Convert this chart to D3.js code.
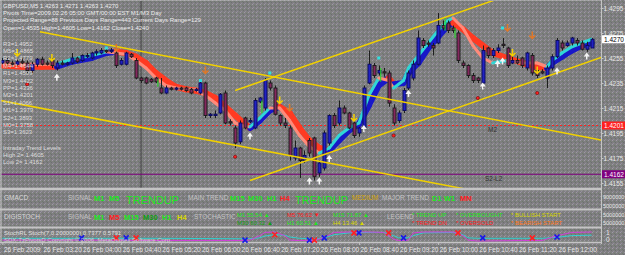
<!DOCTYPE html>
<html>
<head>
<meta charset="utf-8">
<script src="https://cdn.jsdelivr.net/npm/d3@7"></script>
<style>
body { margin: 0; background: #808080; }
svg { display: block; font-family: "Liberation Sans", Arial, sans-serif; }
</style>
</head>
<body>
<div id="chart_area"></div>
<script>
// GBPUSD M5 bars, first bar 26 Feb 2009 02:40
var opens = [1.4251,1.4253,1.4251,1.4250,1.4252,1.4251,1.4245,1.4250,1.4254,1.4251,
  1.4253,1.4247,1.4251,1.4250,1.4251,1.4255,1.4253,1.4256,1.4255,1.4259,
  1.4259,1.4261,1.4260,1.4259,1.4250,1.4250,1.4258,1.4253,1.4239,1.4239,
  1.4238,1.4239,1.4231,1.4227,1.4231,1.4230,1.4231,1.4231,1.4230,1.4229,
  1.4227,1.4235,1.4209,1.4209,1.4211,1.4227,1.4204,1.4199,1.4188,1.4207,
  1.4204,1.4199,1.4220,1.4215,1.4235,1.4231,1.4209,1.4203,1.4199,1.4175,
  1.4183,1.4173,1.4189,1.4191,1.4163,1.4167,1.4187,1.4209,1.4203,1.4215,
  1.4211,1.4203,1.4195,1.4199,1.4235,1.4249,1.4243,1.4244,1.4243,1.4215,
  1.4205,1.4213,1.4231,1.4239,1.4250,1.4269,1.4267,1.4265,1.4267,1.4281,
  1.4283,1.4279,1.4275,1.4251,1.4249,1.4241,1.4239,1.4235,1.4263,1.4257,
  1.4261,1.4266,1.4263,1.4251,1.4253,1.4255,1.4247,1.4257,1.4245,1.4244,
  1.4239,1.4247,1.4256,1.4267,1.4265,1.4267,1.4269,1.4267,1.4262,1.4263];
var highs = [1.4255,1.4255,1.4253,1.4254,1.4255,1.4253,1.4252,1.4255,1.4256,1.4253,
  1.4255,1.4253,1.4253,1.4252,1.4259,1.4256,1.4258,1.4259,1.4260,1.4262,
  1.4263,1.4263,1.4263,1.4261,1.4255,1.4260,1.4259,1.4255,1.4240,1.4240,
  1.4239,1.4240,1.4239,1.4233,1.4232,1.4232,1.4232,1.4232,1.4231,1.4231,
  1.4237,1.4236,1.4211,1.4213,1.4227,1.4229,1.4206,1.4201,1.4205,1.4208,
  1.4207,1.4223,1.4224,1.4239,1.4237,1.4233,1.4210,1.4207,1.4201,1.4189,
  1.4184,1.4181,1.4191,1.4192,1.4173,1.4197,1.4210,1.4211,1.4221,1.4217,
  1.4212,1.4204,1.4200,1.4233,1.4261,1.4251,1.4249,1.4247,1.4245,1.4218,
  1.4213,1.4231,1.4245,1.4253,1.4277,1.4271,1.4269,1.4267,1.4291,1.4285,
  1.4285,1.4281,1.4277,1.4253,1.4250,1.4243,1.4240,1.4265,1.4264,1.4263,
  1.4266,1.4271,1.4264,1.4257,1.4257,1.4256,1.4260,1.4259,1.4247,1.4246,
  1.4249,1.4258,1.4271,1.4269,1.4269,1.4272,1.4271,1.4269,1.4268,1.4271];
var lows = [1.4250,1.4249,1.4248,1.4249,1.4250,1.4243,1.4243,1.4248,1.4249,1.4249,
  1.4247,1.4245,1.4249,1.4249,1.4250,1.4251,1.4252,1.4255,1.4254,1.4257,
  1.4258,1.4259,1.4259,1.4247,1.4249,1.4249,1.4255,1.4238,1.4235,1.4234,
  1.4235,1.4235,1.4226,1.4226,1.4229,1.4229,1.4229,1.4228,1.4226,1.4228,
  1.4226,1.4207,1.4207,1.4207,1.4210,1.4202,1.4201,1.4183,1.4186,1.4198,
  1.4203,1.4198,1.4219,1.4213,1.4229,1.4209,1.4201,1.4199,1.4173,1.4173,
  1.4159,1.4171,1.4176,1.4157,1.4160,1.4165,1.4185,1.4199,1.4201,1.4210,
  1.4198,1.4191,1.4192,1.4197,1.4234,1.4239,1.4241,1.4240,1.4216,1.4201,
  1.4203,1.4211,1.4229,1.4237,1.4249,1.4263,1.4264,1.4257,1.4266,1.4277,
  1.4275,1.4275,1.4251,1.4247,1.4239,1.4235,1.4235,1.4231,1.4255,1.4255,
  1.4259,1.4263,1.4247,1.4250,1.4250,1.4247,1.4245,1.4241,1.4239,1.4242,
  1.4231,1.4245,1.4255,1.4261,1.4264,1.4265,1.4265,1.4261,1.4260,1.4263];
var closes = [1.4253,1.4251,1.4250,1.4252,1.4251,1.4245,1.4250,1.4254,1.4250,1.4250,
  1.4249,1.4251,1.4250,1.4251,1.4255,1.4252,1.4257,1.4257,1.4259,1.4260,
  1.4261,1.4260,1.4261,1.4249,1.4253,1.4259,1.4256,1.4239,1.4237,1.4235,
  1.4236,1.4236,1.4227,1.4231,1.4230,1.4231,1.4230,1.4229,1.4227,1.4230,
  1.4235,1.4209,1.4210,1.4210,1.4226,1.4203,1.4203,1.4187,1.4203,1.4199,
  1.4205,1.4221,1.4223,1.4237,1.4231,1.4210,1.4203,1.4201,1.4177,1.4183,
  1.4173,1.4177,1.4179,1.4160,1.4171,1.4195,1.4209,1.4201,1.4215,1.4211,
  1.4199,1.4193,1.4199,1.4231,1.4250,1.4241,1.4245,1.4243,1.4219,1.4203,
  1.4211,1.4229,1.4243,1.4250,1.4271,1.4265,1.4266,1.4263,1.4281,1.4279,
  1.4277,1.4277,1.4253,1.4249,1.4241,1.4237,1.4237,1.4261,1.4257,1.4261,
  1.4263,1.4265,1.4249,1.4253,1.4251,1.4249,1.4259,1.4243,1.4241,1.4243,
  1.4247,1.4256,1.4269,1.4263,1.4267,1.4271,1.4267,1.4262,1.4265,1.4270];

// moving average ribbons, read at these bar numbers
var maBars = [0,4,8,11,14,18,21,23,25,27,29,31,33,35,37,39,41,43,45,47,49,50,52,54,56,58,60,62,64,66,
  68,70,72,74,76,78,79,81,82,84,86,88,90,91,93,95,97,99,102,105,108,110,111,113,115,117,119];
var maSlow = [1.4249,1.4248,1.4248,1.4248,1.4252,1.4255,1.4259,1.4260,1.4259,1.4256,
  1.4251,1.4243,1.4237,1.4232,1.4230,1.4229,1.4227,1.4223,1.4216,1.4209,
  1.4202,1.4199,1.4205,1.4213,1.4216,1.4211,1.4199,1.4189,1.4183,1.4181,
  1.4189,1.4197,1.4202,1.4217,1.4233,1.4239,1.4234,1.4235,1.4243,1.4251,
  1.4263,1.4272,1.4281,1.4283,1.4278,1.4271,1.4265,1.4259,1.4255,1.4251,
  1.4248,1.4247,1.4251,1.4256,1.4261,1.4265,1.4267];
var maFast = [1.4251,1.4250,1.4250,1.4250,1.4254,1.4257,1.4260,1.4259,1.4258,1.4253,
  1.4247,1.4239,1.4233,1.4231,1.4230,1.4230,1.4225,1.4219,1.4213,1.4203,
  1.4200,1.4200,1.4207,1.4215,1.4215,1.4205,1.4193,1.4184,1.4179,1.4183,
  1.4193,1.4199,1.4203,1.4225,1.4239,1.4237,1.4231,1.4237,1.4247,1.4257,
  1.4267,1.4277,1.4285,1.4287,1.4279,1.4265,1.4255,1.4251,1.4253,1.4251,
  1.4251,1.4248,1.4253,1.4259,1.4264,1.4267,1.4270];

// signal arrows and dots: [bar, price]
var yellowArrows = [[3,1.4259],[10,1.4255],[56,1.4221],[71,1.4207],[103,1.4259],[108,1.4245]];
var orangeArrows = [[23,1.4263],[41,1.4245],[58,1.4215],[102,1.4279],[107,1.4273]];
var whiteArrows = [[11,1.4240],[50,1.4193],[62,1.4157],[64,1.4157],[66,1.4175],[73,1.4199],
  [82,1.4227],[97,1.4233],[100,1.4251],[101,1.4253],[112,1.4245],[118,1.4257]];
var redDots = [[5,1.4234],[47,1.4176],[79,1.4193],[96,1.4223],[108,1.4227]];
var cyanDots = [[21,1.4263],[40,1.4237],[54,1.4243],[76,1.4255],[101,1.4279]];
var greenTicks = [[31,1.4238,1.4232],[52,1.4221,1.4211],[76,1.4247,1.4236],[89,1.4287,1.4277],[91,1.4279,1.4271]];

// trend lines: [start time, start price, second time, second price]
var trendLines = [
  ["03:18", 1.4276, "12:40", 1.4190],
  ["02:38", 1.4221, "10:02", 1.4154],
  ["06:35", 1.4229, "10:52", 1.4300],
  ["06:50", 1.4157, "12:43", 1.4255]
];
var pivotLine = 1.4201;
var lowLine = 1.4162;
var pivotTime = "05:00";

var pivotNames = ["R3","M5","R2","M4","R1","M3","PP","M2","S1","M1","S2","M0","S3"];
var pivotValues = [1.4952,1.4865,1.4779,1.4644,1.4509,1.4422,1.4336,1.4201,1.4066,1.3979,1.3893,1.3758,1.3623];

var priceTicks = [1.4155,1.4175,1.4195,1.4215,1.4235,1.4255,1.4275,1.4295];
var timeTicks = ["02:40","03:20","04:00","04:40","05:20","06:00","06:40","07:20","08:00",
  "08:40","09:20","10:00","10:40","11:20","12:00"];

// stochastic window
var stochBars = [0,16,32,48,50,52,53,55,57,58,60,63,65,67,70,74,77,79,80,82,83,85,91,93,94,96,105,109,112,115,119];
var stochMain = [0.1,0.1,0.05,0.05,0.1,0.6,0.95,1.0,0.6,0.1,0.05,0.05,0.4,0.95,1.0,1.0,0.95,0.2,0.05,0.1,
  0.9,1.0,1.0,0.6,0.1,0.0,0.05,0.05,0.6,0.95,1.0];
var stochSignal = [0.3,0.3,0.3,0.25,0.25,0.35,0.55,0.7,0.65,0.45,0.3,0.25,0.35,0.7,0.9,0.95,0.95,0.6,0.35,0.35,
  0.6,0.9,0.95,0.7,0.35,0.3,0.3,0.3,0.4,0.6,0.65];
var stochBlueX = [[16,0.35],[25,0.35],[49,0.1],[62,0.1],[65,0.35],[72,0.9],[81,0.35],[97,0.35],[112,0.45]];
var stochRedX = [[23,0.35],[27,0.35],[55,0.7],[63,0.1],[71,0.9],[78,0.9],[92,0.9],[107,0.35]];

var day = "2009-02-26 ";
var parseTime = d3.timeParse("%Y-%m-%d %H:%M:%S");
function t(hm) { return parseTime(day + hm + ":00"); }
function barTime(i) { return d3.timeMinute.offset(t("02:40"), 5 * i); }

var x = d3.scaleTime()
  .domain([parseTime(day + "02:37:36"), parseTime(day + "12:44:24")])
  .range([0, 601]);
var y = d3.scaleLinear().domain([1.4155, 1.4295]).range([183, 8]);
var ys = d3.scaleLinear().domain([0, 1]).range([241, 232]);

var svg = d3.select("#chart_area")
  .append("svg")
  .attr("width", 625)
  .attr("height", 255);

// speckled grey background like the gif
var defs = svg.append("defs");
var pat = defs.append("pattern")
  .attr("id", "speckle")
  .attr("width", 4).attr("height", 4)
  .attr("patternUnits", "userSpaceOnUse");
pat.append("rect").attr("width", 4).attr("height", 4).attr("fill", "#7f7f7f");
[[0, 0, "#9d9aa6"], [2, 1, "#6d7a6e"], [1, 3, "#938ba0"], [3, 2, "#6c6c74"]].forEach(function (p) {
  pat.append("rect").attr("x", p[0]).attr("y", p[1]).attr("width", 1).attr("height", 1).attr("fill", p[2]);
});
svg.append("rect").attr("width", 625).attr("height", 255).attr("fill", "url(#speckle)");

defs.append("clipPath").attr("id", "mainclip")
  .append("rect").attr("x", 1).attr("y", 1).attr("width", 600).attr("height", 188);

var main = svg.append("g").attr("clip-path", "url(#mainclip)");

// pivot time separator
main.append("line")
  .attr("x1", x(t(pivotTime))).attr("x2", x(t(pivotTime)))
  .attr("y1", 0).attr("y2", 190)
  .attr("stroke", "#3c3c3c").attr("stroke-width", 1);

// M2 and low lines
main.append("line")
  .attr("x1", 0).attr("x2", 601)
  .attr("y1", y(pivotLine)).attr("y2", y(pivotLine))
  .attr("stroke", "#ff2020").attr("stroke-width", 1)
  .attr("stroke-dasharray", "2,2");
main.append("line")
  .attr("x1", 0).attr("x2", 601)
  .attr("y1", y(lowLine)).attr("y2", y(lowLine))
  .attr("stroke", "#800080").attr("stroke-width", 1);

// ribbons, coloured by direction
function ribbon(values, upColor, downColor, width) {
  for (var k = 0; k < maBars.length - 1; k++) {
    var up = values[k + 1] > values[k];
    main.append("line")
      .attr("x1", x(barTime(maBars[k]))).attr("y1", y(values[k]))
      .attr("x2", x(barTime(maBars[k + 1]))).attr("y2", y(values[k + 1]))
      .attr("stroke", up ? upColor : downColor)
      .attr("stroke-width", width)
      .attr("stroke-linecap", "round");
  }
}
ribbon(maSlow, "#1818c8", "#ff3a22", 6);
ribbon(maFast, "#30d6d6", "#ff8a7a", 3);

// candles
var bars = d3.range(opens.length);
main.selectAll(".wick")
  .data(bars)
  .enter().append("line")
  .attr("class", "wick")
  .attr("x1", function (i) { return Math.round(x(barTime(i))) + 0.5; })
  .attr("x2", function (i) { return Math.round(x(barTime(i))) + 0.5; })
  .attr("y1", function (i) { return y(highs[i]); })
  .attr("y2", function (i) { return y(lows[i]); })
  .attr("stroke", "#1e1e1e").attr("stroke-width", 1);

main.selectAll(".body")
  .data(bars)
  .enter().append("rect")
  .attr("class", "body")
  .attr("x", function (i) { return Math.round(x(barTime(i))) - 1; })
  .attr("width", 3)
  .attr("y", function (i) { return y(Math.max(opens[i], closes[i])); })
  .attr("height", function (i) { return Math.max(1, Math.abs(y(opens[i]) - y(closes[i]))); })
  .attr("fill", function (i) { return closes[i] >= opens[i] ? "#2222c4" : "#84285e"; })
  .attr("stroke", function (i) { return closes[i] >= opens[i] ? "#0c0c60" : "#1e1e1e"; })
  .attr("stroke-width", 1);

// trend lines, extended to the right
trendLines.forEach(function (l) {
  var x1 = x(t(l[0])), y1 = y(l[1]), x2 = x(t(l[2])), y2 = y(l[3]);
  var k = (y2 - y1) / (x2 - x1);
  main.append("line")
    .attr("x1", x1).attr("y1", y1)
    .attr("x2", 601).attr("y2", y1 + k * (601 - x1))
    .attr("stroke", "#f0d000").attr("stroke-width", 1.5);
});

// markers
greenTicks.forEach(function (g) {
  main.append("line")
    .attr("x1", x(barTime(g[0])) + 2).attr("x2", x(barTime(g[0])) + 2)
    .attr("y1", y(g[1])).attr("y2", y(g[2]))
    .attr("stroke", "#20e020").attr("stroke-width", 1);
});
function downArrow(list, color) {
  list.forEach(function (a) {
    var ax = x(barTime(a[0])), ay = y(a[1]);
    main.append("path")
      .attr("d", "M" + ax + "," + (ay - 4) + "V" + (ay + 3) + "M" + (ax - 3) + "," + ay + "L" + ax + "," + (ay + 3) + "L" + (ax + 3) + "," + ay)
      .attr("fill", "none").attr("stroke", color).attr("stroke-width", 1.5);
  });
}
downArrow(yellowArrows, "#f4d000");
downArrow(orangeArrows, "#e07828");
whiteArrows.forEach(function (a) {
  var ax = x(barTime(a[0])), ay = y(a[1]);
  main.append("path")
    .attr("d", "M" + (ax - 3) + "," + (ay + 1) + "L" + ax + "," + (ay - 3) + "L" + (ax + 3) + "," + (ay + 1) + "Z")
    .attr("fill", "#f4f4f4");
  main.append("line")
    .attr("x1", ax).attr("x2", ax).attr("y1", ay).attr("y2", ay + 4)
    .attr("stroke", "#f4f4f4").attr("stroke-width", 1.5);
});
redDots.forEach(function (d) {
  main.append("circle")
    .attr("cx", x(barTime(d[0]))).attr("cy", y(d[1])).attr("r", 1.6)
    .attr("fill", "#ff2020").attr("stroke", "#700000").attr("stroke-width", 0.6);
});
cyanDots.forEach(function (d) {
  main.append("rect")
    .attr("x", x(barTime(d[0])) - 1.5).attr("y", y(d[1]) - 1.5)
    .attr("width", 3).attr("height", 3)
    .attr("fill", "#30e0e0");
});

// small helper for text
function label(g, tx, ty, txt, color, size, weight) {
  return g.append("text")
    .attr("x", tx).attr("y", ty)
    .attr("fill", color)
    .attr("font-size", size)
    .attr("font-weight", weight || "normal")
    .text(txt);
}

label(main, 488, 132, "M2", "#303030", 6.5);
label(main, 485, 181, "S2-L2", "#303030", 6.5);

// header text
var info = svg.append("g");
label(info, 3, 7.5, "GBPUSD,M5  1.4263 1.4271 1.4263 1.4270", "#ececec", 6);
label(info, 3, 14.5, "Pivots Time=2009.02.26 05:00 GMT/00:00 EST M1/M3 Day", "#ececec", 6);
label(info, 3, 21.5, "Projected Range=88 Previous Days Range=443 Current Days Range=129", "#ececec", 6);
label(info, 3, 29.5, "Open=1.4535 High=1.4605 Low=1.4162 Close=1.4240", "#ececec", 6);
pivotNames.forEach(function (n, k) {
  label(info, 3, 45.5 + k * 7.4, n + "=" + pivotValues[k].toFixed(4), "#dcdcdc", 6);
});
label(info, 3, 149.5, "Intraday Trend Levels", "#dcdcdc", 6);
label(info, 3, 156.5, "High 2= 1.4605", "#dcdcdc", 6);
label(info, 3, 163.5, "Low 2= 1.4162", "#dcdcdc", 6);

// panel frames
var frame = "#c4c4c4";
[[0, 1], [189, 2.5], [209.5, 2], [227.5, 2], [242.5, 1.5]].forEach(function (b) {
  svg.append("line")
    .attr("x1", 0).attr("x2", 602).attr("y1", b[0]).attr("y2", b[0])
    .attr("stroke", frame).attr("stroke-width", b[1]);
});
svg.append("line").attr("x1", 1).attr("x2", 1).attr("y1", 0).attr("y2", 243)
  .attr("stroke", frame).attr("stroke-width", 1);
svg.append("line").attr("x1", 601.5).attr("x2", 601.5).attr("y1", 0).attr("y2", 244)
  .attr("stroke", frame).attr("stroke-width", 1);

// price axis
var yAxis = d3.axisRight(y).tickValues(priceTicks).tickSize(2).tickFormat(d3.format(".4f"));
var ya = svg.append("g").attr("transform", "translate(601.5,0)").call(yAxis);
ya.select(".domain").remove();
ya.selectAll("line").attr("stroke", frame);
ya.selectAll("text").attr("x", 2).attr("fill", "#e8e8e8")
  .attr("font-size", 6.5).attr("font-family", "Liberation Sans, Arial, sans-serif");

function priceBox(v, bg, fg) {
  svg.append("rect").attr("x", 602).attr("y", y(v) - 4).attr("width", 23).attr("height", 8).attr("fill", bg);
  label(svg, 604, y(v) + 2.5, v.toFixed(4), fg, 6.5);
}
priceBox(closes[closes.length - 1], "#ffffff", "#000000");
priceBox(pivotLine, "#ff2020", "#ffffff");
priceBox(lowLine, "#800080", "#ffffff");

// GMACD panel
var p2 = svg.append("g");
label(p2, 4, 200, "GMACD", "#d8d8d8", 6.5);
label(p2, 68, 200, "SIGNAL", "#c4c4c4", 6.5);
label(p2, 94, 201, "M1", "#1ee61e", 7.5, "bold");
label(p2, 109, 201, "M5", "#1ee61e", 7.5, "bold");
label(p2, 126, 204, "TRENDUP", "#1ee61e", 11);
label(p2, 188, 200, "MAIN TREND", "#c4c4c4", 6.5);
label(p2, 230, 201, "M15", "#1ee61e", 7.5, "bold");
label(p2, 248, 201, "M30", "#1ee61e", 7.5, "bold");
label(p2, 267, 201, "H1", "#1ee61e", 7.5, "bold");
label(p2, 280, 201, "H4", "#ff2020", 7.5, "bold");
label(p2, 295, 204, "TRENDUP", "#1ee61e", 11);
label(p2, 352, 200, "MEDIUM", "#d4a400", 6.5);
label(p2, 382, 200, "MAJOR TREND", "#c4c4c4", 6.5);
label(p2, 432, 201, "D1", "#1ee61e", 7.5, "bold");
label(p2, 444, 201, "W1", "#1ee61e", 7.5, "bold");
label(p2, 460, 201, "MN", "#ff2020", 7.5, "bold");
label(p2, 603, 199, "9000000", "#e8e8e8", 5.5);
label(p2, 603, 207.5, "5000000", "#e8e8e8", 5.5);

// DIGISTOCH panel
var p3 = svg.append("g");
label(p3, 4, 218.5, "DIGISTOCH", "#d8d8d8", 6.5);
label(p3, 68, 218.5, "SIGNAL", "#c4c4c4", 6.5);
label(p3, 94, 220, "M1", "#1ee61e", 7.5, "bold");
label(p3, 109, 220, "M5", "#ff2020", 7.5, "bold");
label(p3, 124, 220, "M15", "#1ee61e", 7.5, "bold");
label(p3, 143, 220, "M30", "#0fa00f", 7.5, "bold");
label(p3, 162, 220, "H1", "#1ee61e", 7.5, "bold");
label(p3, 177, 220, "H4", "#d8d800", 7.5, "bold");
label(p3, 194, 218.5, "STOCHASTIC", "#c4c4c4", 6.5);
label(p3, 237, 217, "M1    55.54 \u25B2", "#1ee61e", 6);
label(p3, 237, 224.5, "M30  60.32 \u25B2", "#0fa00f", 6);
label(p3, 287, 217, "M5   76.62 \u25BC", "#ff2020", 6);
label(p3, 287, 224.5, "H1   60.51 \u25B2", "#1ee61e", 6);
label(p3, 333, 217, "M15  71.87 \u25B2", "#1ee61e", 6);
label(p3, 333, 224.5, "H4    13.46 \u25B2", "#d8d800", 6);
label(p3, 387, 218.5, "LEGEND", "#c4c4c4", 6.5);
label(p3, 412, 217, "* TREND UP", "#1ee61e", 6);
label(p3, 412, 224.5, "* TREND DN", "#ff2020", 6);
label(p3, 456, 217, "* OVERBOUGHT", "#1ee61e", 6);
label(p3, 456, 224.5, "* OVERSOLD", "#ff2020", 6);
label(p3, 511, 217, "* BULLISH START", "#d8d800", 6);
label(p3, 511, 224.5, "* BEARISH START", "#ff7a1a", 6);
label(p3, 603, 217, "5000000", "#e8e8e8", 5.5);
label(p3, 603, 225, "5000000", "#e8e8e8", 5.5);

// stochastic panel
var p4 = svg.append("g");
var stochLine = d3.line()
  .x(function (d) { return x(barTime(d[0])); })
  .y(function (d) { return ys(d[1]); });
p4.append("path")
  .datum(stochBars.map(function (b, k) { return [b, stochSignal[k]]; }))
  .attr("d", stochLine).attr("fill", "none")
  .attr("stroke", "#30d0d0").attr("stroke-width", 1);
p4.append("path")
  .datum(stochBars.map(function (b, k) { return [b, stochMain[k]]; }))
  .attr("d", stochLine).attr("fill", "none")
  .attr("stroke", "#d040d8").attr("stroke-width", 1);
function crosses(list, color) {
  list.forEach(function (c) {
    var cx = x(barTime(c[0])), cy = ys(c[1]);
    p4.append("path")
      .attr("d", "M" + (cx - 2.5) + "," + (cy - 2.5) + "L" + (cx + 2.5) + "," + (cy + 2.5) +
        "M" + (cx + 2.5) + "," + (cy - 2.5) + "L" + (cx - 2.5) + "," + (cy + 2.5))
      .attr("stroke", color).attr("stroke-width", 1.6);
  });
}
crosses(stochBlueX, "#1818e8");
crosses(stochRedX, "#ff2020");
label(p4, 4, 235, "StochRL Stoch(7,0.2000000) 0.7377 0.5791", "#e0e0e0", 6);
label(p4, 4, 241.5, "SDX-TzPivotsD  Copyright \u00A9 2006, MetaQuotes Software Corp.", "#d0d0d0", 6);
label(p4, 606, 235, "1", "#e8e8e8", 6.5);
label(p4, 606, 242, "0", "#e8e8e8", 6.5);

// time axis
var xAxis = d3.axisBottom(x)
  .tickValues(timeTicks.map(t))
  .tickSize(2)
  .tickFormat(function (d, k) { return k === 0 ? "26 Feb 2009" : d3.timeFormat("%d %b %H:%M")(d); });
var xa = svg.append("g").attr("transform", "translate(0,243)").call(xAxis);
xa.select(".domain").remove();
xa.selectAll("line").attr("stroke", frame);
xa.selectAll("text")
  .attr("x", 1).attr("y", 4)
  .attr("text-anchor", "start")
  .attr("fill", "#e8e8e8")
  .attr("font-size", 6.5)
  .attr("font-family", "Liberation Sans, Arial, sans-serif");
</script>
</body>
</html>
